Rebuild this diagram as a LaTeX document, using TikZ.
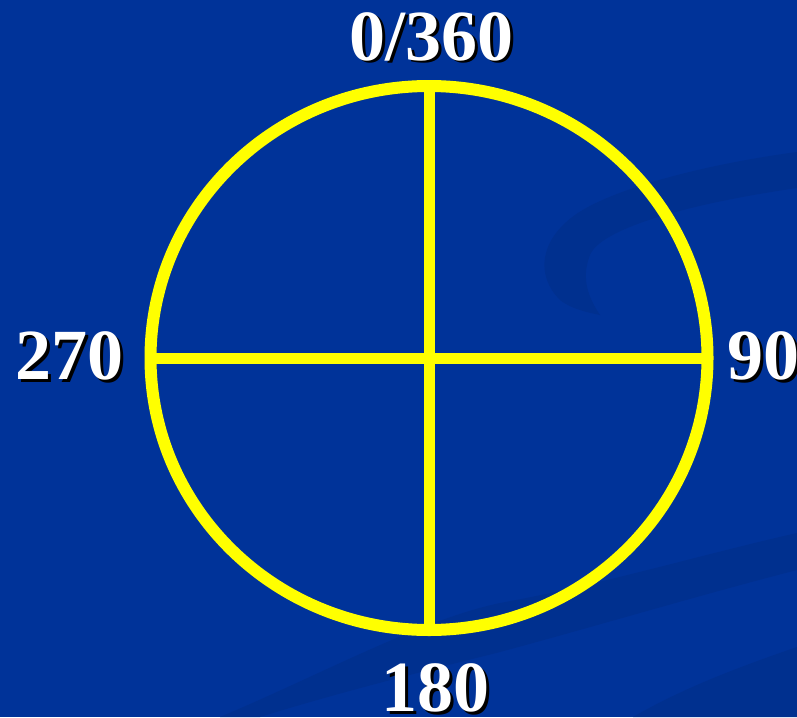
\documentclass[tikz,border=0pt]{standalone}
\usepackage{fontspec}
\setmainfont{Liberation Serif}
\definecolor{bg}{HTML}{003399}
\definecolor{swoosh}{HTML}{00308F}
\definecolor{ylw}{HTML}{FFFF00}
\begin{document}
\begin{tikzpicture}[x=1pt,y=-1pt,
  lbl/.style={font=\fontsize{72}{72}\selectfont\bfseries, text=white, inner sep=0pt, anchor=base},
  shadow/.style={lbl, text=black},
  ring/.style={draw=ylw, line width=12pt},
  axis/.style={draw=ylw, line width=11pt}]
\fill[bg] (0,0) rectangle (797,717);
\useasboundingbox (0,0) rectangle (797,717);
% background swooshes
\fill[swoosh] (797,152) .. controls (700,165) and (610,190) .. (575,215)
  .. controls (540,240) and (535,275) .. (560,300)
  .. controls (570,308) and (585,312) .. (600,315)
  .. controls (590,300) and (580,280) .. (590,255)
  .. controls (600,230) and (680,205) .. (797,188) -- cycle;
\fill[swoosh] (500,603) .. controls (600,585) and (700,555) .. (797,533)
  -- (797,570) .. controls (700,595) and (600,625) .. (500,652)
  .. controls (420,672) and (330,695) .. (260,717)
  -- (220,717) .. controls (320,675) and (420,620) .. (500,603) -- cycle;
\fill[swoosh] (797,647) .. controls (730,670) and (680,690) .. (633,717)
  -- (797,717) -- cycle;
% dial
\coordinate (c) at (429,358);
\coordinate (t) at (429,86);
\coordinate (b) at (429,630);
\coordinate (l) at (150.5,358);
\coordinate (r) at (707.5,358);
\draw[ring] (c) ellipse [x radius=278.5, y radius=272];
\draw[axis] (t) -- (b);
\draw[axis] (l) -- (r);
% labels
\node[shadow] (s0) at (434,63) {0/360};
\node[lbl] (n0) at (431,60) {0/360};
\node[shadow] (s270) at (72.5,382) {270};
\node[lbl] (n270) at (69.5,379) {270};
\node[shadow] (s90) at (766,382) {90};
\node[lbl] (n90) at (763,379) {90};
\node[shadow] (s180) at (438,714) {180};
\node[lbl] (n180) at (435,711) {180};
\end{tikzpicture}
\end{document}
